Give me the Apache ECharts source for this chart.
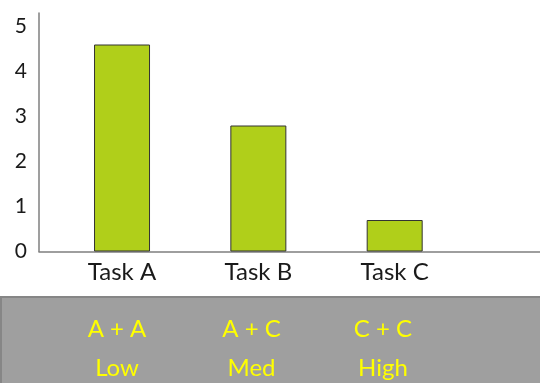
<!DOCTYPE html>
<html>
<head>
<meta charset="utf-8">
<script src="https://cdn.jsdelivr.net/npm/echarts@6/dist/echarts.min.js"></script>
<style>
html,body{margin:0;padding:0;background:#fff;}
#main{width:540px;height:383px;}
</style>
</head>
<body>
<div id="main"></div>
<script>
// ---- data ----
var categories = ['Task A', 'Task B', 'Task C'];
var values = [4.6, 2.8, 0.7];
var yTicks = [0, 1, 2, 3, 4, 5];
var pairLabels = ['A + A', 'A + C', 'C + C'];
var levelLabels = ['Low', 'Med', 'High'];

var FONT = 'Lato';
var chart = echarts.init(document.getElementById('main'));

var positions = categories.map(function (c, i) { return i + 1; });
var barData = values.map(function (v, i) { return [positions[i], v]; });

// footer band texts (layout positions)
var footerX = [117, 251.5, 383];
var footerTexts = [];
pairLabels.forEach(function (t, i) {
  footerTexts.push({
    type: 'text', x: footerX[i], y: 329,
    style: { text: t, fill: '#ffff00', font: '24px ' + FONT, textAlign: 'center', textVerticalAlign: 'middle' }
  });
});
levelLabels.forEach(function (t, i) {
  footerTexts.push({
    type: 'text', x: footerX[i], y: 368,
    style: { text: t, fill: '#ffff00', font: '24px ' + FONT, textAlign: 'center', textVerticalAlign: 'middle' }
  });
});

chart.setOption({
  animation: false,
  backgroundColor: '#ffffff',
  grid: { left: 39, right: 0, top: 13, bottom: 131.5 },
  xAxis: {
    type: 'value',
    min: 0.391,
    max: 4.066,
    axisLine: { show: true, lineStyle: { color: '#7f7f7f', width: 1.5 } },
    axisTick: { show: false },
    splitLine: { show: false },
    axisLabel: {
      customValues: positions,
      formatter: function (v) { return categories[Math.round(v) - 1] || ''; },
      color: '#1a1a1a', fontFamily: FONT, fontSize: 24, margin: 9
    }
  },
  yAxis: {
    type: 'value',
    min: 0,
    max: 5.3,
    axisLine: { show: true, lineStyle: { color: '#7f7f7f', width: 1.5 } },
    axisTick: { show: false },
    splitLine: { show: false },
    axisLabel: {
      customValues: yTicks,
      color: '#1a1a1a', fontFamily: FONT, fontSize: 21, margin: 12
    }
  },
  series: [{
    type: 'bar',
    data: barData,
    barWidth: 56,
    itemStyle: { color: '#b0cf1a', borderColor: '#333333', borderWidth: 1 }
  }],
  graphic: [{
    type: 'rect', left: 0, top: 296, z: -1,
    shape: { width: 540, height: 87 },
    style: { fill: '#9f9f9f', stroke: '#868686', lineWidth: 2 }
  }].concat(footerTexts)
});
</script>
</body>
</html>
